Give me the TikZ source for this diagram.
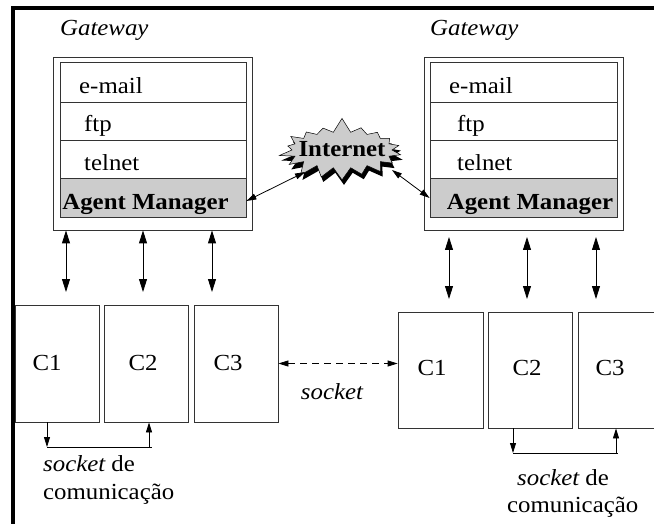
\documentclass[tikz,border=0pt]{standalone}
\usepackage{fontspec}
\setmainfont{Liberation Serif}[FakeStretch=1.08]
\usetikzlibrary{arrows.meta,shapes.symbols}
\begin{document}
\begin{tikzpicture}[x=1pt,y=-1pt,
  font=\fontsize{23}{27}\selectfont,
  box/.style={draw=black!80, line width=0.8pt, inner sep=0pt},
  lbl/.style={anchor=base west, inner sep=0pt},
  clbl/.style={anchor=base, inner sep=0pt},
  tipbig/.style={{Triangle[length=13pt,width=8pt]}-{Triangle[length=13pt,width=8pt]}},
  tipsm/.style={{Triangle[length=10pt,width=6pt]}-{Triangle[length=10pt,width=6pt]}},
  conn/.style={line width=0.8pt},
  burst/.style={starburst, random starburst=7, starburst points=18, starburst point height=15pt, minimum width=130pt, minimum height=66pt, inner sep=0pt}
]
\useasboundingbox (0,0) rectangle (654,524);
\clip (0,0) rectangle (654,524);
% frame
\draw[line width=4pt, line join=miter] (13,530) -- (13,8) -- (660,8);

% gateway labels
\node[lbl] (gwLt) at (60,36) {\itshape Gateway};
\node[lbl] (gwRt) at (430,36) {\itshape Gateway};

% left gateway
\node[box, minimum width=199pt, minimum height=173pt] (gwL) at (152.5,143.5) {};
\node[box, minimum width=186pt, minimum height=40pt] (emL) at (153,82) {};
\node[box, minimum width=186pt, minimum height=38pt] (ftL) at (153,121) {};
\node[box, minimum width=186pt, minimum height=38pt] (teL) at (153,159) {};
\node[box, fill=black!20, minimum width=186pt, minimum height=39pt] (amL) at (153,197.5) {};
\node[lbl] (emLt) at (79,94) {e-mail};
\node[lbl] (ftLt) at (84,132) {ftp};
\node[lbl] (teLt) at (84,171) {telnet};
\node[clbl] (amLt) at (145.5,210) {\bfseries Agent Manager};

% right gateway
\node[box, minimum width=199pt, minimum height=173pt] (gwR) at (523.5,143.5) {};
\node[box, minimum width=187pt, minimum height=40pt] (emR) at (523.5,82) {};
\node[box, minimum width=187pt, minimum height=38pt] (ftR) at (523.5,121) {};
\node[box, minimum width=187pt, minimum height=38pt] (teR) at (523.5,159) {};
\node[box, fill=black!20, minimum width=187pt, minimum height=39pt] (amR) at (523.5,197.5) {};
\node[lbl] (emRt) at (449,94) {e-mail};
\node[lbl] (ftRt) at (457,132) {ftp};
\node[lbl] (teRt) at (457,171) {telnet};
\node[clbl] (amRt) at (530,210) {\bfseries Agent Manager};

% internet
\node[burst, fill=black] (inetS) at (344,155) {};
\node[burst, fill=black!20, draw=black, line width=0.5pt] (inet) at (342,150) {};
\node[clbl] (inett) at (342,157) {\bfseries Internet};

% internet arrows
\coordinate (iL) at (305,172);
\coordinate (iR) at (392,170);
\draw[conn, tipsm] (iL) -- (amL.east |- 0,201);
\draw[conn, tipsm] (iR) -- (amR.west |- 0,198);

% left clients
\node[box, minimum width=84pt, minimum height=117pt] (c1L) at (57,363.5) {};
\node[box, minimum width=84pt, minimum height=117pt] (c2L) at (146,363.5) {};
\node[box, minimum width=84pt, minimum height=117pt] (c3L) at (236,363.5) {};
\node[clbl] (c1Lt) at (47,370) {C1};
\node[clbl] (c2Lt) at (143,370) {C2};
\node[clbl] (c3Lt) at (228,370) {C3};

% right clients
\node[box, minimum width=85pt, minimum height=116pt] (c1R) at (440.5,370) {};
\node[box, minimum width=84pt, minimum height=116pt] (c2R) at (530,370) {};
\node[box, minimum width=86pt, minimum height=116pt] (c3R) at (621,370) {};
\node[clbl] (c1Rt) at (432,375) {C1};
\node[clbl] (c2Rt) at (527,375) {C2};
\node[clbl] (c3Rt) at (610,375) {C3};

% vertical arrows left
\foreach \x/\n in {66/a,143/b,212/c}{
  \coordinate (vL\n) at (\x,292);
  \draw[conn, tipbig] (gwL.south -| vL\n) -- (vL\n);
}
% vertical arrows right
\foreach \x/\n in {449/a,527/b,596/c}{
  \coordinate (vRt\n) at (\x,237);
  \coordinate (vR\n) at (\x,299);
  \draw[conn, tipbig] (vRt\n) -- (vR\n);
}

% socket between gateways
\draw[conn, dashed, dash pattern=on 7pt off 5pt, tipsm] (c3L.east) -- (c1R.west |- c3L.east);
\node[clbl] (sockt) at (332,399) {\itshape socket};

% socket de comunicacao left
\coordinate (sLa) at (47,447);
\coordinate (sLb) at (152,447);
\coordinate (sLc) at (149,447);
\draw[conn, -{Triangle[length=10pt,width=6pt]}] (c1L.south -| sLa) -- (sLa);
\draw[conn] (sLa) -- (sLb);
\draw[conn, -{Triangle[length=10pt,width=6pt]}] (sLc) -- (c2L.south -| sLc);
\node[lbl] (sLt1) at (43,471) {\itshape socket\upshape{} de};
\node[lbl] (sLt2) at (43,499) {comunicação};

% socket de comunicacao right
\coordinate (sRa) at (513,453);
\coordinate (sRb) at (618,453);
\coordinate (sRc) at (616,453);
\draw[conn, -{Triangle[length=10pt,width=6pt]}] (c2R.south -| sRa) -- (sRa);
\draw[conn] (sRa) -- (sRb);
\draw[conn, -{Triangle[length=10pt,width=6pt]}] (sRc) -- (c3R.south -| sRc);
\node[lbl] (sRt1) at (517,485) {\itshape socket\upshape{} de};
\node[lbl] (sRt2) at (507,512) {comunicação};
\end{tikzpicture}
\end{document}
